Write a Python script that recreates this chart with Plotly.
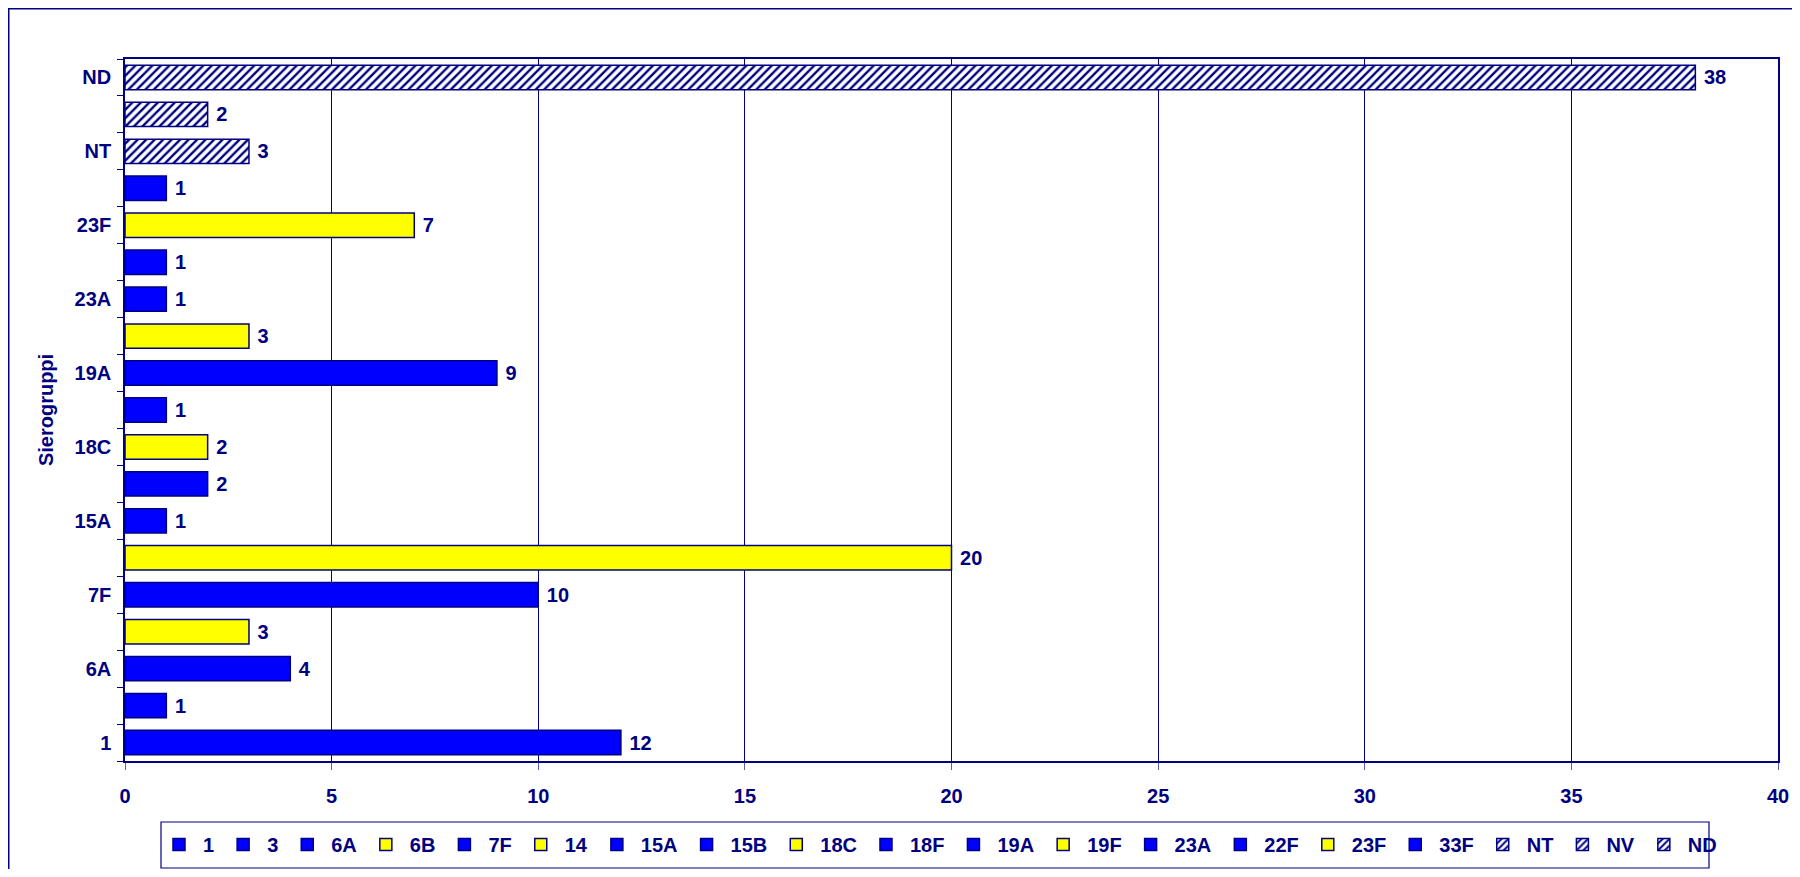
import plotly.graph_objects as go

categories = ["1", "3", "6A", "6B", "7F", "14", "15A", "15B", "18C", "18F",
              "19A", "19F", "23A", "22F", "23F", "33F", "NT", "NV", "ND"]
values = [12, 1, 4, 3, 10, 20, 1, 2, 2, 1, 9, 3, 1, 1, 7, 1, 3, 2, 38]
kinds = ["blue", "blue", "blue", "yellow", "blue", "yellow", "blue", "blue", "yellow", "blue",
         "blue", "yellow", "blue", "blue", "yellow", "blue", "hatch", "hatch", "hatch"]
# y tick labels shown on every other category
shown_labels = ["1", "6A", "7F", "15A", "18C", "19A", "23A", "23F", "NT", "ND"]
x_ticks = [0, 5, 10, 15, 20, 25, 30, 35, 40]

NAVY = "#000080"
FONT = "Liberation Sans, Arial, sans-serif"

# figure geometry (page body adds an 8px margin)
W, H = 1784, 861
L, R, T, B = 117, 1770, 51, 753
PW, PH = R - L, B - T


def px(x):
    return (x - L) / PW


def py(y):
    return (B - y) / PH


fig = go.Figure()
for cat, val, kind in zip(categories, values, kinds):
    if kind == "hatch":
        marker = dict(color="white", line=dict(color=NAVY, width=1.5),
                      pattern=dict(shape="/", fgcolor=NAVY, bgcolor="white",
                                   size=6, solidity=0.4, fillmode="replace"))
    else:
        marker = dict(color="#0000FF" if kind == "blue" else "#FFFF00",
                      line=dict(color=NAVY, width=1.5))
    fig.add_trace(go.Bar(
        y=[cat], x=[val], name=cat, orientation="h", marker=marker,
        text=[val], texttemplate=" %{x}", textposition="outside",
        textfont=dict(family=FONT, size=20, color=NAVY, weight="bold"),
        cliponaxis=False,
    ))

ticktext = [c if c in shown_labels else "" for c in categories]

fig.update_layout(
    width=W, height=H,
    margin=dict(l=L, r=W - R, t=T, b=H - B, autoexpand=False),
    paper_bgcolor="white", plot_bgcolor="white",
    barmode="overlay", bargap=0.34,
    font=dict(family=FONT, size=20, color=NAVY, weight="bold"),
    showlegend=True,
    legend=dict(
        orientation="h", x=px(147), y=py(817), xanchor="left", yanchor="top",
        borderwidth=0, bgcolor="rgba(0,0,0,0)",
        font=dict(family=FONT, size=20, color=NAVY, weight="bold"),
        itemwidth=38, traceorder="normal", itemclick=False,
    ),
    xaxis=dict(
        range=[0, 40], tickmode="array", tickvals=x_ticks,
        ticks="outside", ticklen=7, tickcolor="#6060B0", tickwidth=1,
        ticklabelstandoff=9,
        showgrid=True, gridcolor=NAVY, gridwidth=1,
        showline=True, linecolor=NAVY, linewidth=1.5, mirror=True,
        zeroline=False,
        tickfont=dict(family=FONT, size=20, color=NAVY, weight="bold"),
    ),
    yaxis=dict(
        type="category", categoryorder="array", categoryarray=categories,
        range=[-0.5, len(categories) - 0.5],
        tickmode="array", tickvals=categories, ticktext=ticktext,
        tickson="boundaries", ticks="outside", ticklen=6, tickcolor=NAVY,
        ticklabelstandoff=8,
        showgrid=False, showline=True, linecolor=NAVY, linewidth=1.5, mirror=True,
        zeroline=False,
        tickfont=dict(family=FONT, size=20, color=NAVY, weight="bold"),
        title=dict(text="Sierogruppi", standoff=16,
                   font=dict(family=FONT, size=20, color=NAVY, weight="bold")),
    ),
    shapes=[
        # outer chart frame
        dict(type="rect", xref="paper", yref="paper",
             x0=px(0.75), x1=px(W + 20), y0=py(H + 20), y1=py(0.75),
             line=dict(color=NAVY, width=1.5), fillcolor="rgba(0,0,0,0)",
             layer="below"),
        # legend box
        dict(type="rect", xref="paper", yref="paper",
             x0=px(153), x1=px(1701), y0=py(860), y1=py(814),
             line=dict(color=NAVY, width=1.2), fillcolor="rgba(0,0,0,0)",
             layer="above"),
    ],
)

fig.write_html("out.html")
